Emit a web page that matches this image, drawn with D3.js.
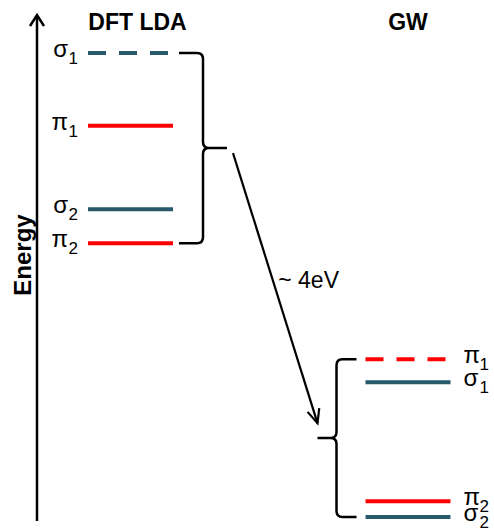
<!DOCTYPE html>
<html>
<head>
<meta charset="utf-8">
<script src="https://cdn.jsdelivr.net/npm/d3@7"></script>
<style>
  html, body { margin: 0; padding: 0; background: #fff; }
  svg { display: block; font-family: "Liberation Sans", Arial, sans-serif; }
</style>
</head>
<body>
<svg id="chart" width="494" height="531"></svg>
<script>
// ---- data ----
const methods = ["DFT LDA", "GW"];
const dftOrbitals = ["σ1", "π1", "σ2", "π2"];
const dftEnergy   = [0.00, -1.01, -2.17, -2.64];   // relative energy (eV)
const gwOrbitals  = ["π1", "σ1", "π2", "σ2"];
const gwEnergy    = [-4.25, -4.57, -6.22, -6.44];  // relative energy (eV)
const axisLabel = "Energy";
const shiftLabel = "~ 4eV";

// ---- layout ----
const svg = d3.select("#chart");
const teal = "#27596a", red = "#ff0000";

const y = d3.scaleLinear().domain([0, -6.44]).range([53, 517]);
const x = d3.scalePoint().domain(methods).range([130.5, 408]);
const halfW = 42.5;

const columns = [
  { method: methods[0], orbs: dftOrbitals, en: dftEnergy, side: "left" },
  { method: methods[1], orbs: gwOrbitals, en: gwEnergy, side: "right" }
];

// energy axis
const axisX = 37;
svg.append("line").attr("x1", axisX).attr("x2", axisX)
  .attr("y1", 521).attr("y2", 16)
  .attr("stroke", "#000").attr("stroke-width", 2.5);
svg.append("path")
  .attr("d", d3.line()([[axisX - 7, 26], [axisX, 15], [axisX + 7, 26]]))
  .attr("fill", "none").attr("stroke", "#000").attr("stroke-width", 2.5);
svg.append("text")
  .attr("transform", `translate(31,255) rotate(-90)`)
  .attr("text-anchor", "middle")
  .attr("font-size", 24).attr("font-weight", "bold")
  .text(axisLabel);

// columns
columns.forEach(col => {
  const cx = x(col.method);
  const x0 = cx - halfW, x1 = cx + halfW;
  const maxE = d3.max(col.en);
  svg.append("text")
    .attr("x", cx + (col.side === "left" ? 7 : 0)).attr("y", 30)
    .attr("text-anchor", "middle")
    .attr("font-size", 23).attr("font-weight", "bold")
    .text(col.method);

  col.orbs.forEach((o, i) => {
    const yy = y(col.en[i]);
    const isSigma = o[0] === "σ";
    svg.append("line")
      .attr("x1", x0).attr("x2", x1).attr("y1", yy).attr("y2", yy)
      .attr("stroke", isSigma ? teal : red).attr("stroke-width", 4)
      .attr("stroke-dasharray", col.en[i] === maxE ? "18,13" : null);
    // main symbol and subscript as separate texts
    const subW = 10;
    if (col.side === "left") {
      const xe = x0 - 10;
      svg.append("text").attr("x", xe).attr("y", yy + 11)
        .attr("text-anchor", "end").attr("font-size", 17).text(o.slice(1));
      svg.append("text").attr("x", xe - subW).attr("y", yy + 4)
        .attr("text-anchor", "end").attr("font-size", 24).text(o[0]);
    } else {
      const xs = x1 + 13;
      svg.append("text").attr("x", xs).attr("y", yy + 4)
        .attr("font-size", 24).text(o[0]);
      svg.append("text").attr("x", xs + 16).attr("y", yy + 11)
        .attr("font-size", 17).text(o.slice(1));
    }
  });
});

// braces
function brace(xs, xv, xt, yTop, yBot, dir) {
  const yMid = (yTop + yBot) / 2;
  const r = 6, p = d3.path();
  p.moveTo(xs, yTop);
  p.lineTo(xv - dir * r, yTop);
  p.quadraticCurveTo(xv, yTop, xv, yTop + r);
  p.lineTo(xv, yMid - r);
  p.quadraticCurveTo(xv, yMid, xv + dir * r, yMid);
  p.lineTo(xt, yMid);
  p.moveTo(xv + dir * r, yMid);
  p.quadraticCurveTo(xv, yMid, xv, yMid + r);
  p.lineTo(xv, yBot - r);
  p.quadraticCurveTo(xv, yBot, xv - dir * r, yBot);
  p.lineTo(xs, yBot);
  svg.append("path").attr("d", p.toString())
    .attr("fill", "none").attr("stroke", "#000").attr("stroke-width", 2.5);
  return yMid;
}
const dx1 = x(methods[0]) + halfW, gx0 = x(methods[1]) - halfW;
const dftMid = brace(dx1 + 6, dx1 + 30, dx1 + 54, y(d3.max(dftEnergy)), y(d3.min(dftEnergy)), 1);
const gwMid = brace(gx0 - 9, gx0 - 29, gx0 - 48, y(d3.max(gwEnergy)), y(d3.min(gwEnergy)), -1);

// shift arrow
const ax0 = dx1 + 60, ay0 = dftMid + 5;
const ax1 = gx0 - 48, ay1 = gwMid - 15;
svg.append("line").attr("x1", ax0).attr("y1", ay0).attr("x2", ax1).attr("y2", ay1)
  .attr("stroke", "#000").attr("stroke-width", 2.2);
const ang = Math.atan2(ay1 - ay0, ax1 - ax0), hl = 15, ha = 0.42;
svg.append("path")
  .attr("d", d3.line()([
    [ax1 - hl * Math.cos(ang - ha), ay1 - hl * Math.sin(ang - ha)],
    [ax1, ay1],
    [ax1 - hl * Math.cos(ang + ha), ay1 - hl * Math.sin(ang + ha)]
  ]))
  .attr("fill", "none").attr("stroke", "#000").attr("stroke-width", 2.2);
svg.append("text")
  .attr("x", (ax0 + ax1) / 2 + 3).attr("y", (ay0 + ay1) / 2)
  .attr("font-size", 23).text(shiftLabel);
</script>
</body>
</html>
